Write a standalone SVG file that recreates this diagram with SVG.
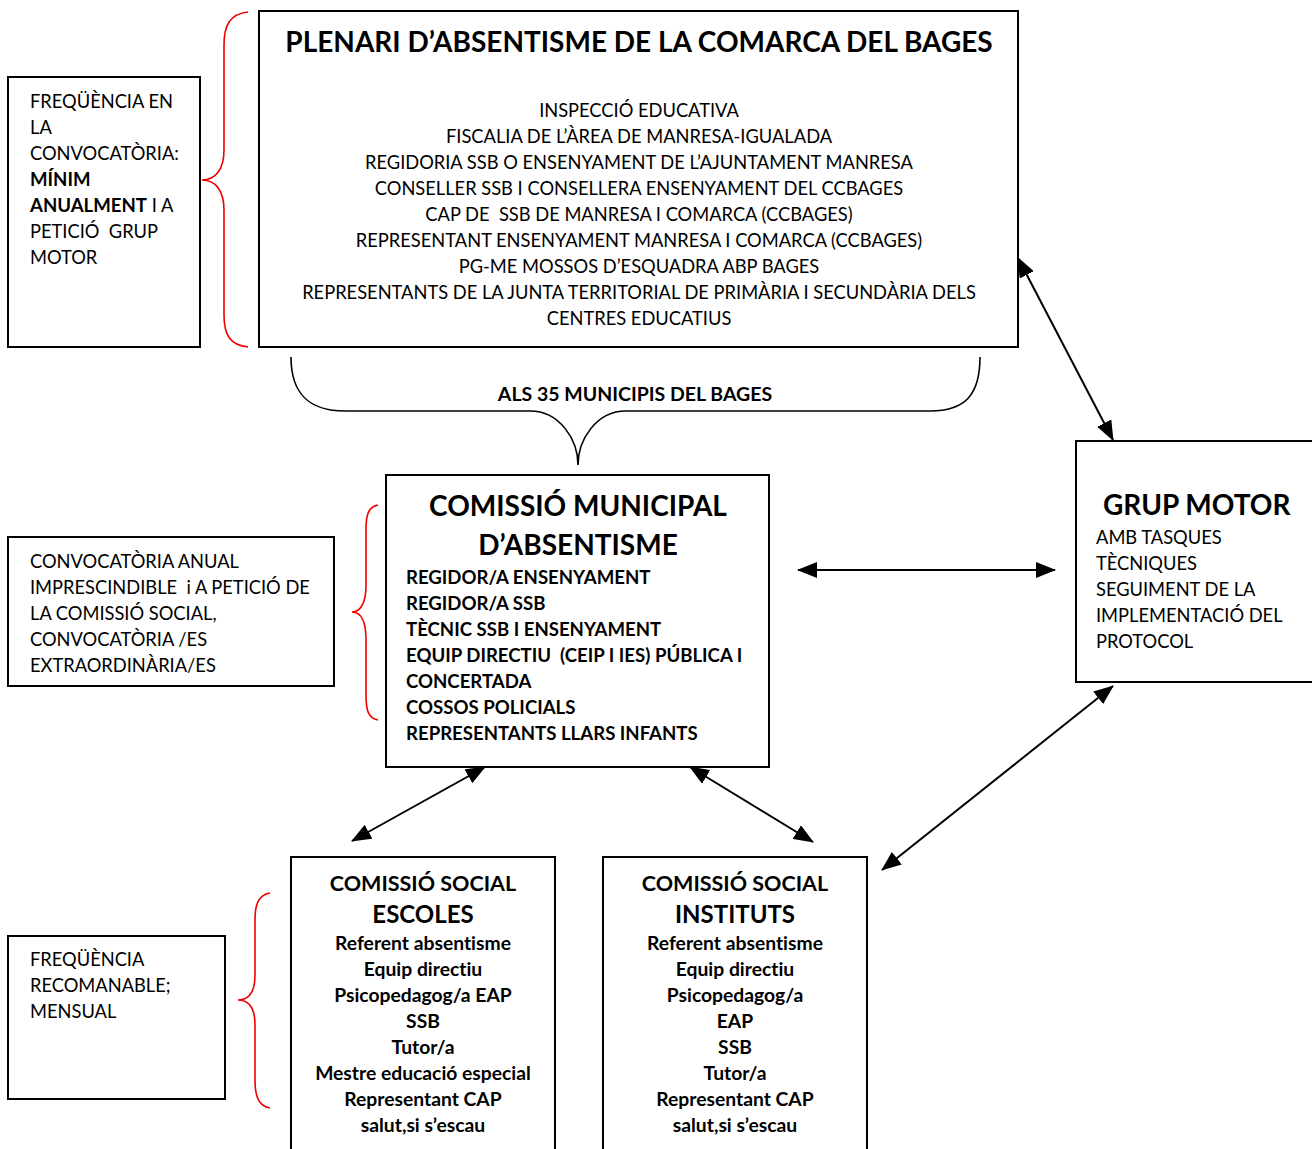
<svg xmlns="http://www.w3.org/2000/svg" width="1312" height="1149" viewBox="0 0 1312 1149">
<defs>
<marker id="ah" viewBox="0 0 20 16" refX="19" refY="8" markerWidth="20" markerHeight="16" markerUnits="userSpaceOnUse" orient="auto-start-reverse">
<path d="M0,0 L20,8 L0,16 Z" fill="#000"/>
</marker>
<style>
.box{fill:#fff;stroke:#000;stroke-width:2}
.t{font-family:Lato,"Open Sans",sans-serif;font-size:18.3px;fill:#000;font-variant-ligatures:none}
.b{font-weight:bold;font-size:18.6px}
.c{text-anchor:middle}
.s{font-size:19.3px}
.h27{font-size:28px}
.h21{font-size:21.5px}
.h23{font-size:24px}
.h19{font-size:19.5px}
.brace{fill:none;stroke:#e00;stroke-width:1.6}
.conn{fill:none;stroke:#000;stroke-width:2}
</style>
</defs>
<rect width="1312" height="1149" fill="#fff"/>

<g id="plenari">
<rect class="box" x="259" y="11" width="759" height="336"/>
<text class="t b c h27" x="639" y="52">PLENARI D’ABSENTISME DE LA COMARCA DEL BAGES</text>
<text class="t c" x="639" y="117">INSPECCIÓ EDUCATIVA</text>
<text class="t c" x="639" y="143">FISCALIA DE L’ÀREA DE MANRESA-IGUALADA</text>
<text class="t c" x="639" y="169">REGIDORIA SSB O ENSENYAMENT DE L’AJUNTAMENT MANRESA</text>
<text class="t c" x="639" y="195">CONSELLER SSB I CONSELLERA ENSENYAMENT DEL CCBAGES</text>
<text class="t c" x="639" y="221" xml:space="preserve">CAP DE  SSB DE MANRESA I COMARCA (CCBAGES)</text>
<text class="t c" x="639" y="247">REPRESENTANT ENSENYAMENT MANRESA I COMARCA (CCBAGES)</text>
<text class="t c" x="639" y="273">PG-ME MOSSOS D’ESQUADRA ABP BAGES</text>
<text class="t c" x="639" y="299">REPRESENTANTS DE LA JUNTA TERRITORIAL DE PRIMÀRIA I SECUNDÀRIA DELS</text>
<text class="t c" x="639" y="325">CENTRES EDUCATIUS</text>
</g>

<g id="freq-plenari">
<rect class="box" x="8" y="77" width="192" height="270"/>
<text class="t" x="30" y="108">FREQÜÈNCIA EN</text>
<text class="t" x="30" y="134">LA</text>
<text class="t" x="30" y="160">CONVOCATÒRIA:</text>
<text class="t b" x="30" y="186">MÍNIM</text>
<text class="t" x="30" y="212"><tspan class="b">ANUALMENT</tspan> I A</text>
<text class="t" x="30" y="238" xml:space="preserve">PETICIÓ  GRUP</text>
<text class="t" x="30" y="264">MOTOR</text>
</g>

<g id="municipis-label">
<path d="M291,357 C291,395 310,411 345,411 L530,411 C560,411 578,440 578,465 C578,440 596,411 626,411 L930,411 C965,411 980,395 980,357" fill="none" stroke="#000" stroke-width="1.6"/>
<text class="t b c h19" x="635" y="401">ALS 35 MUNICIPIS DEL BAGES</text>
</g>

<g id="municipal">
<rect class="box" x="386" y="475" width="383" height="292"/>
<text class="t b c h27" x="578" y="516">COMISSIÓ MUNICIPAL</text>
<text class="t b c h27" x="578" y="555">D’ABSENTISME</text>
<text class="t b" x="406" y="584">REGIDOR/A ENSENYAMENT</text>
<text class="t b" x="406" y="610">REGIDOR/A SSB</text>
<text class="t b" x="406" y="636">TÈCNIC SSB I ENSENYAMENT</text>
<text class="t b" x="406" y="662" xml:space="preserve">EQUIP DIRECTIU  (CEIP I IES) PÚBLICA I</text>
<text class="t b" x="406" y="688">CONCERTADA</text>
<text class="t b" x="406" y="714">COSSOS POLICIALS</text>
<text class="t b" x="406" y="740">REPRESENTANTS LLARS INFANTS</text>
</g>

<g id="freq-municipal">
<rect class="box" x="8" y="537" width="326" height="149"/>
<text class="t" x="30" y="568">CONVOCATÒRIA ANUAL</text>
<text class="t" x="30" y="594" xml:space="preserve">IMPRESCINDIBLE  i A PETICIÓ DE</text>
<text class="t" x="30" y="620">LA COMISSIÓ SOCIAL,</text>
<text class="t" x="30" y="646">CONVOCATÒRIA /ES</text>
<text class="t" x="30" y="672">EXTRAORDINÀRIA/ES</text>
</g>

<g id="grup-motor">
<rect class="box" x="1076" y="441" width="250" height="241"/>
<text class="t b h27" x="1103" y="515">GRUP MOTOR</text>
<text class="t" x="1096" y="544">AMB TASQUES</text>
<text class="t" x="1096" y="570">TÈCNIQUES</text>
<text class="t" x="1096" y="596">SEGUIMENT DE LA</text>
<text class="t" x="1096" y="622">IMPLEMENTACIÓ DEL</text>
<text class="t" x="1096" y="648">PROTOCOL</text>
</g>

<g id="social-escoles">
<rect class="box" x="291" y="857" width="264" height="300"/>
<text class="t b c h21" x="423" y="891">COMISSIÓ SOCIAL</text>
<text class="t b c h23" x="423" y="923">ESCOLES</text>
<text class="t b c s" x="423" y="950">Referent absentisme</text>
<text class="t b c s" x="423" y="976">Equip directiu</text>
<text class="t b c s" x="423" y="1002">Psicopedagog/a EAP</text>
<text class="t b c s" x="423" y="1028">SSB</text>
<text class="t b c s" x="423" y="1054">Tutor/a</text>
<text class="t b c s" x="423" y="1080">Mestre educació especial</text>
<text class="t b c s" x="423" y="1106">Representant CAP</text>
<text class="t b c s" x="423" y="1132">salut,si s’escau</text>
</g>

<g id="social-instituts">
<rect class="box" x="603" y="857" width="264" height="300"/>
<text class="t b c h21" x="735" y="891">COMISSIÓ SOCIAL</text>
<text class="t b c h23" x="735" y="923">INSTITUTS</text>
<text class="t b c s" x="735" y="950">Referent absentisme</text>
<text class="t b c s" x="735" y="976">Equip directiu</text>
<text class="t b c s" x="735" y="1002">Psicopedagog/a</text>
<text class="t b c s" x="735" y="1028">EAP</text>
<text class="t b c s" x="735" y="1054">SSB</text>
<text class="t b c s" x="735" y="1080">Tutor/a</text>
<text class="t b c s" x="735" y="1106">Representant CAP</text>
<text class="t b c s" x="735" y="1132">salut,si s’escau</text>
</g>

<g id="freq-social">
<rect class="box" x="8" y="936" width="217" height="163"/>
<text class="t" x="30" y="966">FREQÜÈNCIA</text>
<text class="t" x="30" y="992">RECOMANABLE;</text>
<text class="t" x="30" y="1018">MENSUAL</text>
</g>

<g id="braces">
<path class="brace" d="M248,12 C230,14 224,25 224,45 L224,150 C224,170 215,180 202,180 C215,180 224,190 224,210 L224,315 C224,335 230,345 248,347"/>
<path class="brace" d="M378,505 C368,507 366,515 366,530 L366,585 C366,600 362,612 352,612 C362,612 366,624 366,640 L366,695 C366,710 368,718 378,720"/>
<path class="brace" d="M270,893 C258,895 255,905 255,920 L255,975 C255,990 250,1000 238,1000 C250,1000 255,1010 255,1025 L255,1080 C255,1095 258,1106 270,1108"/>
</g>

<g id="connectors">
<line class="conn" x1="1018" y1="258" x2="1113" y2="440" marker-start="url(#ah)" marker-end="url(#ah)"/>
<line class="conn" x1="798" y1="570" x2="1055" y2="570" marker-start="url(#ah)" marker-end="url(#ah)"/>
<line class="conn" x1="485" y1="767" x2="352" y2="841" marker-start="url(#ah)" marker-end="url(#ah)"/>
<line class="conn" x1="690" y1="767" x2="813" y2="842" marker-start="url(#ah)" marker-end="url(#ah)"/>
<line class="conn" x1="1113" y1="686" x2="882" y2="870" marker-start="url(#ah)" marker-end="url(#ah)"/>
</g>
</svg>
